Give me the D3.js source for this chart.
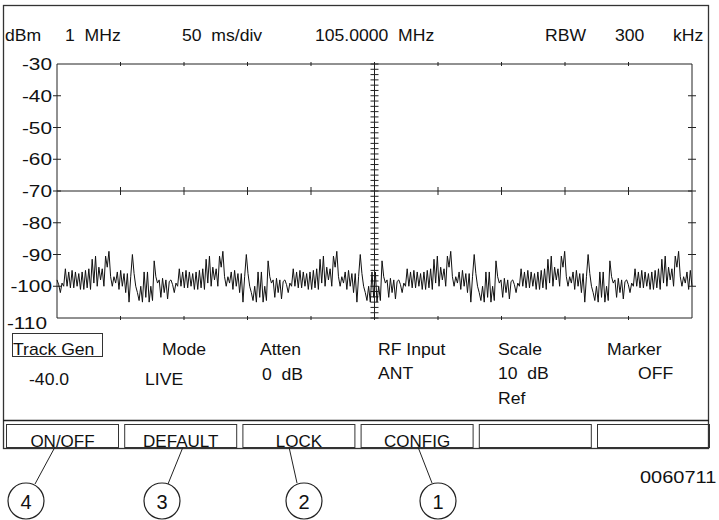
<!DOCTYPE html>
<html>
<head>
<meta charset="utf-8">
<script src="https://cdn.jsdelivr.net/npm/d3@7"></script>
<style>
  body { margin: 0; background: #fff; }
  text { font-family: "Liberation Sans", Arial, sans-serif; fill: #111; white-space: pre; }
</style>
</head>
<body>
<div id="screen"></div>
<script>
// readout strings
var headerLabels = ["dBm", "1  MHz", "50  ms/div", "105.0000  MHz", "RBW", "300", "kHz"];
var yTicks = [-30, -40, -50, -60, -70, -80, -90, -100, -110];
var statusNames = ["Track Gen", "Mode", "Atten", "RF Input", "Scale", "Marker"];
var statusValues = ["-40.0", "LIVE", "0  dB", "ANT", "10  dB", "OFF"];
var softKeys = ["ON/OFF", "DEFAULT", "LOCK", "CONFIG", "", ""];
var callouts = ["4", "3", "2", "1"];
var figureId = "0060711";

// sweep trace, dBm, read left to right across the 10 divisions
var trace = [
  -98,-99.5,-102,-99,-100,-94.5,-100,-95.5,-100.5,-95,-100.5,-95.5,-100,-96,-101,-95.5,-101,-95,-100.5,-94.5,-101,-91.5,-99,-90.5,-100,-94,-98,-94.5,-100,-90.5,-94,-89,-97,-100,-97,-99,-95.5,-101,-95,-100,-96,-102,-96,-105,-97,-90,-96,-100,-102,-104.5,-100,-105,-95.5,-103.5,-95.5,-105,-100,-104.5,-92,-97,-99,-98,-103.5,-97.5,-102,-98,-104,-98.5,
  -98,-99.5,-102,-99,-100,-94.5,-100,-95.5,-100.5,-95,-100.5,-95.5,-100,-96,-101,-95.5,-101,-95,-100.5,-94.5,-101,-91.5,-99,-90.5,-100,-94,-98,-94.5,-100,-90.5,-94,-89,-97,-100,-97,-99,-95.5,-101,-95,-100,-96,-102,-96,-105,-97,-90,-96,-100,-102,-104.5,-100,-105,-95.5,-103.5,-95.5,-105,-100,-104.5,-92,-97,-99,-98,-103.5,-97.5,-102,-98,-104,-98.5,
  -98,-99.5,-102,-99,-100,-94.5,-100,-95.5,-100.5,-95,-100.5,-95.5,-100,-96,-101,-95.5,-101,-95,-100.5,-94.5,-101,-91.5,-99,-90.5,-100,-94,-98,-94.5,-100,-90.5,-94,-89,-97,-100,-97,-99,-95.5,-101,-95,-100,-96,-102,-96,-105,-97,-90,-96,-100,-102,-104.5,-100,-105,-95.5,-103.5,-95.5,-105,-100,-104.5,-92,-97,-99,-98,-103.5,-97.5,-102,-98,-104,-98.5,
  -98,-99.5,-102,-99,-100,-94.5,-100,-95.5,-100.5,-95,-100.5,-95.5,-100,-96,-101,-95.5,-101,-95,-100.5,-94.5,-101,-91.5,-99,-90.5,-100,-94,-98,-94.5,-100,-90.5,-94,-89,-97,-100,-97,-99,-95.5,-101,-95,-100,-96,-102,-96,-105,-97,-90,-96,-100,-102,-104.5,-100,-105,-95.5,-103.5,-95.5,-105,-100,-104.5,-92,-97,-99,-98,-103.5,-97.5,-102,-98,-104,-98.5,
  -98,-99.5,-102,-99,-100,-94.5,-100,-95.5,-100.5,-95,-100.5,-95.5,-100,-96,-101,-95.5,-101,-95,-100.5,-94.5,-101,-91.5,-99,-90.5,-100,-94,-98,-94.5,-100,-90.5,-94,-89,-97,-100,-97,-99,-95.5,-101,-95,-100,-96,-102,-96,-105,-97,-90,-96,-100,-102,-104.5,-100,-105,-95.5,-103.5,-95.5,-105,-100,-104.5,-92,-97,-99,-98,-103.5,-97.5,-102,-98,-104,-98.5,
  -98,-99.5,-102,-99,-100,-94.5,-100,-95.5,-100.5,-95,-100.5,-95.5,-100,-96,-101,-95.5,-101,-95,-100.5,-94.5,-101,-91.5,-99,-90.5,-100,-94,-98,-94.5,-100,-90.5,-94,-89,-97,-100,-97,-99,-95.5,-101,-95,-100
];

var width = 719,
    height = 520;

var svg = d3.select("#screen").append("svg")
    .attr("width", width)
    .attr("height", height);

var x = d3.scaleLinear().domain([0, 10]).range([57, 692]);
var y = d3.scaleLinear().domain([-110, -30]).range([318, 64]);
var xi = d3.scaleLinear().domain([0, trace.length - 1]).range([57, 692]);

// readout font is drawn a little wide, so text gets a horizontal stretch
function label(g, str, px, py, size, anchor, sx) {
  return g.append("text")
      .attr("transform", "translate(" + px + "," + py + ") scale(" + (sx || 1.1) + ",1)")
      .attr("font-size", size)
      .attr("text-anchor", anchor || "start")
      .text(str);
}

function seg(g, x1, y1, x2, y2, w) {
  g.append("line")
      .attr("x1", x1).attr("y1", y1)
      .attr("x2", x2).attr("y2", y2)
      .attr("stroke", "#222")
      .attr("stroke-width", w || 1);
}

// outer frame and separator
svg.append("rect")
    .attr("x", 3.5).attr("y", 5.5)
    .attr("width", 705).attr("height", 443)
    .attr("fill", "none")
    .attr("stroke", "#333")
    .attr("stroke-width", 1.3);
seg(svg, 3, 420.5, 709, 420.5, 1.3);

// header line
var headerX = [5, 65, 182, 315, 545, 615, 673];
headerLabels.forEach(function(s, i) { label(svg, s, headerX[i], 41, 16); });

// graticule
var grid = svg.append("g");
seg(grid, x(0), y(-30), x(10), y(-30));
seg(grid, x(0), y(-110), x(10), y(-110));
seg(grid, x(0), y(-30), x(0), y(-110));
seg(grid, x(10), y(-30), x(10), y(-110));
seg(grid, x(0), y(-70), x(10), y(-70));
seg(grid, x(5), y(-30), x(5), y(-110));

d3.range(1, 10).forEach(function(d) {
  seg(grid, x(d), y(-30) - 2, x(d), y(-30) + 2);
  seg(grid, x(d), y(-110) - 2, x(d), y(-110) + 2);
  seg(grid, x(d), y(-70) - 4, x(d), y(-70) + 4);
});
yTicks.slice(1, -1).forEach(function(v) {
  seg(grid, x(0) - 4, y(v), x(0) + 4, y(v));
  seg(grid, x(10) - 4, y(v), x(10) + 4, y(v));
});
// fine ticks on the centre line
d3.range(-30, -110.01, -10 / 6).forEach(function(v) {
  seg(grid, x(5) - 4, y(v), x(5) + 4, y(v));
});

// y labels
yTicks.forEach(function(v) {
  if (v === -110) {
    label(svg, String(v), 47, y(v) + 11, 16, "end", 1.3);
  } else {
    label(svg, String(v), 52, y(v) + 6, 16, "end", 1.3);
  }
});

// trace
var line = d3.line()
    .x(function(d, i) { return xi(i); })
    .y(function(d) { return y(d); });

svg.append("path")
    .datum(trace)
    .attr("d", line)
    .attr("fill", "none")
    .attr("stroke", "#111")
    .attr("stroke-width", 1);

// status block
var nameX = [13, 162, 260, 378, 498, 607];
var valX = [29, 145, 262, 378, 498, 638];
var valY = [385, 385, 380, 379, 379, 379];
statusNames.forEach(function(s, i) { label(svg, s, nameX[i], 355, 16); });
statusValues.forEach(function(s, i) { label(svg, s, valX[i], valY[i], 16); });
label(svg, "Ref", 498, 404, 16);

svg.append("rect")
    .attr("x", 12.5).attr("y", 333.5)
    .attr("width", 90).attr("height", 23)
    .attr("fill", "none")
    .attr("stroke", "#333")
    .attr("stroke-width", 1);

// soft keys
var keys = svg.selectAll(".key")
    .data(softKeys)
    .enter().append("g")
    .attr("class", "key")
    .attr("transform", function(d, i) { return "translate(" + (6.5 + i * 118.2) + ",424.5)"; });

keys.append("rect")
    .attr("width", 112).attr("height", 23)
    .attr("fill", "none")
    .attr("stroke", "#333")
    .attr("stroke-width", 1);

keys.each(function(d) {
  label(d3.select(this), d, 56, 22.5, 17, "middle", 1.0);
});

// callouts
var calloutX = [26, 162, 304, 438];
var leader = [[35, 484, 55, 447], [168, 484, 183, 447], [297, 483, 289, 447], [432, 483, 418, 447]];

callouts.forEach(function(c, i) {
  var l = leader[i];
  seg(svg, l[0], l[1], l[2], l[3], 1);
  svg.append("circle")
      .attr("cx", calloutX[i]).attr("cy", 501)
      .attr("r", 18)
      .attr("fill", "none")
      .attr("stroke", "#222")
      .attr("stroke-width", 1.2);
  label(svg, c, calloutX[i], 509, 20, "middle", 1.0);
});

label(svg, figureId, 640, 483, 16, "start", 1.25);
</script>
</body>
</html>
